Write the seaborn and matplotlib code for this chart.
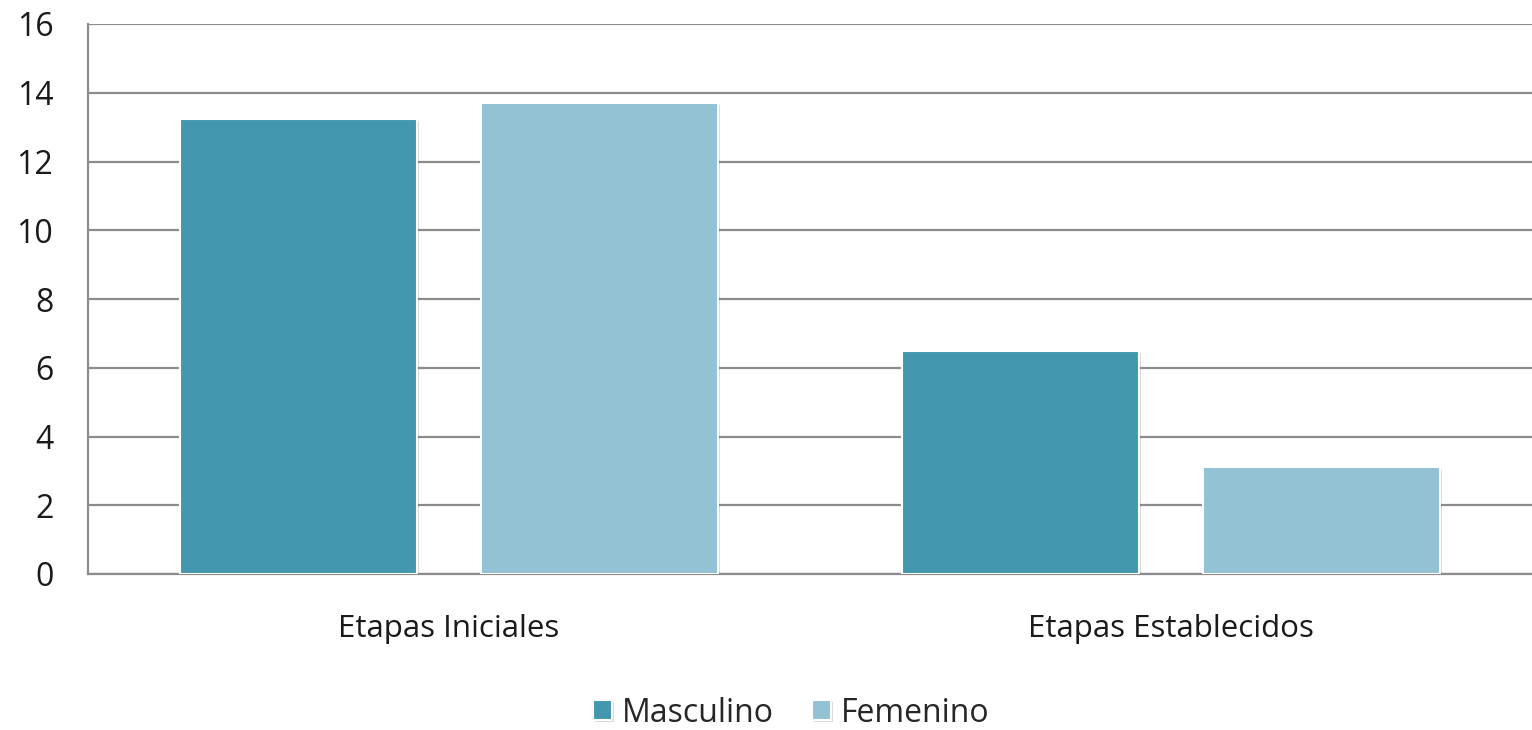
import matplotlib
matplotlib.use("Agg")
from matplotlib import pyplot as plt
import matplotlib.patheffects as pe
import pandas as pd
import seaborn as sns

categories = ["Etapas Iniciales", "Etapas Establecidos"]
series = ["Masculino", "Femenino"]
masculino = [13.25, 6.5]
femenino = [13.7, 3.1]
y_ticks = [0, 2, 4, 6, 8, 10, 12, 14, 16]

colors = {"Masculino": "#4397AF", "Femenino": "#93C2D4"}

df = pd.DataFrame({
    "Etapa": categories * 2,
    "Sexo": [series[0]] * len(categories) + [series[1]] * len(categories),
    "Valor": masculino + femenino,
})

sns.set_style("white")
plt.rcParams["font.family"] = ["Open Sans", "DejaVu Sans"]

fig = plt.figure(figsize=(15.32, 7.30), dpi=100)
ax = fig.add_axes([88 / 1532, 156 / 730, 1444 / 1532, 550 / 730])

sns.barplot(data=df, x="Etapa", y="Valor", hue="Sexo", order=categories, hue_order=series,
            palette=colors, width=0.834, gap=0.213, edgecolor="white", linewidth=1.5,
            saturation=1, ax=ax, zorder=3, legend=True)

for bar in ax.patches:
    bar.set_path_effects([pe.SimplePatchShadow(offset=(1.5, -1.5), alpha=0.18), pe.Normal()])

ax.set_ylim(0, 16)
ax.set_yticks(y_ticks)
ax.set_yticklabels([str(t) for t in y_ticks], fontsize=23, color="#1a1a1a")
ax.tick_params(axis="x", labelsize=22.5, colors="#1a1a1a", pad=29, length=0)
ax.tick_params(axis="y", length=0, pad=25)
ax.yaxis.grid(True, color="#8c8c8c", linewidth=1.6, zorder=0)
ax.set_axisbelow(True)
ax.set_xlabel("")
ax.set_ylabel("")
for side in ["top", "right"]:
    ax.spines[side].set_visible(False)
ax.spines["left"].set_color("#8c8c8c")
ax.spines["bottom"].set_color("#8c8c8c")
ax.spines["left"].set_linewidth(1.6)
ax.spines["bottom"].set_linewidth(1.6)

handles, labels = ax.get_legend_handles_labels()
ax.get_legend().remove()
fig.legend(handles, labels, loc="center", bbox_to_anchor=(791 / 1532, 1 - 713 / 730), ncol=2,
           frameon=False, fontsize=23, handlelength=0.6, handleheight=0.6, handletextpad=0.3,
           columnspacing=1.2)

fig.savefig("out.png", dpi=100)
